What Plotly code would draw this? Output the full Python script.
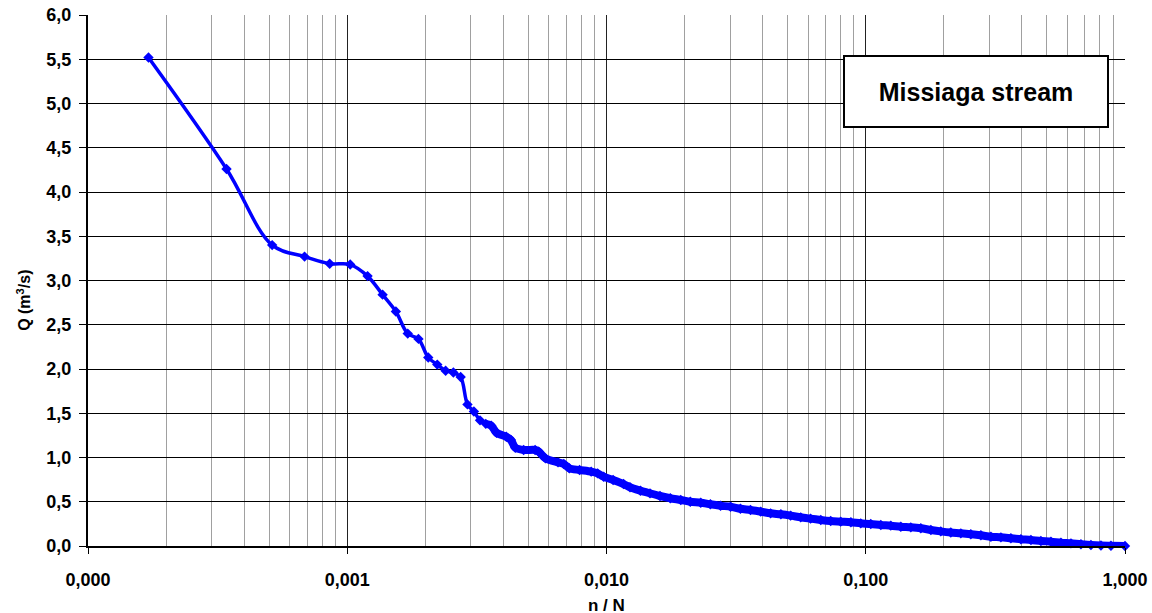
import plotly.graph_objects as go

# ---- data (rank n of N daily flows, discharge Q in m3/s)
N_TOTAL = 5844
rank = [1, 2, 3, 4, 5, 6, 7, 8, 9, 10, 11, 12, 13, 14, 15, 16, 17, 18, 19, 20, 21, 22,
        24, 25, 26, 28, 31, 32, 34, 38, 40, 42, 46, 51, 54, 57, 62, 68, 72, 79, 86, 94,
        103, 113, 123, 135, 147, 161, 176, 192, 210, 230, 251, 275, 300, 328, 358, 392,
        428, 468, 512, 559, 611, 668, 730, 798, 872, 953, 1042, 1138, 1244, 1360, 1486,
        1625, 1776, 1941, 2121, 2318, 2534, 2769, 3027, 3308, 3616, 3952, 4319, 4720,
        5159, 5844]
q = [5.52, 4.26, 3.40, 3.27, 3.19, 3.18, 3.05, 2.84, 2.65, 2.40, 2.34, 2.13, 2.05, 1.98,
     1.96, 1.91, 1.60, 1.52, 1.42, 1.38, 1.36, 1.28,
     1.235, 1.198, 1.111, 1.085, 1.085, 1.066, 0.99, 0.945, 0.927, 0.878, 0.859, 0.84,
     0.821, 0.783, 0.746, 0.70, 0.663, 0.625, 0.595, 0.565, 0.539, 0.52, 0.50, 0.489,
     0.471, 0.455, 0.444, 0.421, 0.407, 0.388, 0.369, 0.358, 0.343, 0.324, 0.309, 0.294,
     0.282, 0.275, 0.268, 0.256, 0.249, 0.237, 0.230, 0.218, 0.211, 0.200, 0.181, 0.165,
     0.152, 0.143, 0.132, 0.121, 0.105, 0.098, 0.087, 0.076, 0.068, 0.056, 0.049, 0.037,
     0.030, 0.019, 0.012, 0.006, 0.003, 0.0]

x_ticks = [0.0001, 0.001, 0.01, 0.1, 1.0]
y_ticks = [0.0, 0.5, 1.0, 1.5, 2.0, 2.5, 3.0, 3.5, 4.0, 4.5, 5.0, 5.5, 6.0]
title_box = "Missiaga stream"
x_title = "n / N"
y_title = "Q (m<sup>3</sup>/s)"

x = [n / N_TOTAL for n in rank]
BLUE = "#0000FF"
FONT = "Liberation Sans, Arial, sans-serif"

fig = go.Figure()
# dense part of the curve (many overlapping markers in the original -> thick band)
dense_start = rank.index(20)
fig.add_trace(go.Scatter(
    x=x[dense_start:], y=q[dense_start:], mode="lines",
    line=dict(color=BLUE, width=8, shape="spline", smoothing=0.8),
    hoverinfo="skip", showlegend=False, cliponaxis=False))
fig.add_trace(go.Scatter(
    x=x, y=q, mode="lines+markers",
    line=dict(color=BLUE, width=3.5, shape="spline", smoothing=1.0),
    marker=dict(symbol="diamond", size=8, color=BLUE),
    showlegend=False, cliponaxis=False))

fig.update_layout(
    template="none",
    width=1152, height=613,
    margin=dict(l=88, r=27, t=15, b=67, autoexpand=False),
    paper_bgcolor="white", plot_bgcolor="white",
    separators=",.",
    font=dict(family=FONT, color="black", size=17),
    xaxis=dict(
        type="log", range=[-4, 0], automargin=False,
        tickvals=x_ticks, tickformat=".3f",
        tickfont=dict(family=FONT, size=18, weight="bold"),
        ticks="outside", ticklen=6, tickwidth=1, tickcolor="black",
        ticklabelstandoff=10,
        showline=True, linecolor="black", linewidth=2,
        showgrid=True, gridcolor="#222222", gridwidth=1,
        minor=dict(dtick="D1", showgrid=True, gridcolor="#a0a0a0", gridwidth=1, ticks=""),
        zeroline=False,
    ),
    yaxis=dict(
        range=[0, 6], automargin=False, tickvals=y_ticks, tickformat=".1f",
        tickfont=dict(family=FONT, size=18, weight="bold"),
        ticks="outside", ticklen=7, tickwidth=1, tickcolor="black",
        ticklabelstandoff=4,
        showline=True, linecolor="black", linewidth=2,
        showgrid=True, gridcolor="black", gridwidth=1,
        zeroline=False,
    ),
    annotations=[
        dict(text=title_box, xref="paper", yref="paper", x=0.856, y=0.855,
             xanchor="center", yanchor="middle", showarrow=False,
             font=dict(family=FONT, size=25, weight="bold", color="black"),
             bgcolor="white", bordercolor="black", borderwidth=2, borderpad=2,
             width=258, height=65),
        dict(text=x_title, xref="paper", yref="paper", x=0.5, y=-0.112,
             xanchor="center", yanchor="middle", showarrow=False,
             font=dict(family=FONT, size=17, weight="bold", color="black")),
        dict(text=y_title, xref="paper", yref="paper", x=-0.062, y=0.463,
             xanchor="center", yanchor="middle", showarrow=False, textangle=-90,
             font=dict(family=FONT, size=16, weight="bold", color="black")),
    ],
)

fig.write_html("out.html", config={"displayModeBar": False},
               post_script="document.body.style.margin='0';")
